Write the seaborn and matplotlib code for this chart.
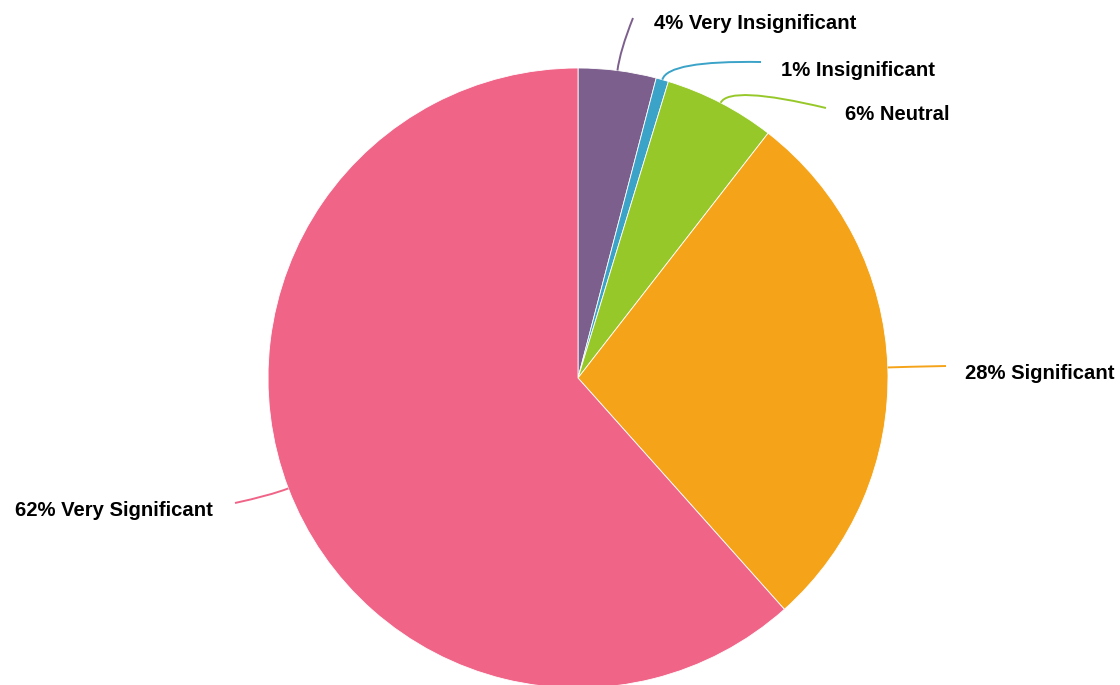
import numpy as np
import matplotlib
matplotlib.use("Agg")
import matplotlib.pyplot as plt
from matplotlib.path import Path
from matplotlib.patches import PathPatch
import seaborn as sns

# ---- data ----
categories = ["Very Insignificant", "Insignificant", "Neutral", "Significant", "Very Significant"]
values = [4.06, 0.65, 5.8, 27.9, 61.6]
pct_labels = ["4%", "1%", "6%", "28%", "62%"]
colors = ["#7C5F8D", "#3BA2C8", "#97C82A", "#F5A41A", "#F06488"]

# ---- layout (pixel positions, top-left origin) ----
W, H = 1120, 685
cx, cy, R = 578, 378, 310
# leader end point and label anchor (x, y, ha)
leader_ends = [(633, 18), (761, 62), (826, 108), (946, 366), (235, 503)]
label_pos = [(654, 23, "left"), (781, 70, "left"), (845, 114, "left"), (965, 373, "left"), (213, 510, "right")]

sns.set_theme(style="white")
plt.rcParams['font.family'] = ['Liberation Sans', 'DejaVu Sans']

fig = plt.figure(figsize=(W / 100, H / 100), dpi=100)
ax = fig.add_axes([0, 0, 1, 1])
ax.set_xlim(0, W)
ax.set_ylim(0, H)
ax.set_aspect('equal')
ax.axis('off')

ax.pie(values, colors=colors, startangle=90, counterclock=False,
       center=(cx, H - cy), radius=R,
       wedgeprops=dict(edgecolor='white', linewidth=0.6))
ax.set_xlim(0, W)
ax.set_ylim(0, H)

total = sum(values)
cum = np.cumsum([0] + values[:-1])
for i, v in enumerate(values):
    mid = (cum[i] + v / 2) / total * 2 * np.pi  # clockwise from top
    dx, dy = np.sin(mid), np.cos(mid)
    p0 = (cx + R * dx, (H - cy) + R * dy)
    p1 = (cx + (R + 20) * dx, (H - cy) + (R + 20) * dy)
    ex, ey = leader_ends[i]
    p2 = (ex, H - ey)
    path = Path([p0, p1, p2], [Path.MOVETO, Path.CURVE3, Path.CURVE3])
    ax.add_patch(PathPatch(path, facecolor='none', edgecolor=colors[i], lw=1.4))
    lx, ly, ha = label_pos[i]
    ax.text(lx, H - ly, f"{pct_labels[i]} {categories[i]}", ha=ha, va='center',
            fontsize=14.6, fontweight='bold', color='black')

fig.savefig("out.png", dpi=100)
